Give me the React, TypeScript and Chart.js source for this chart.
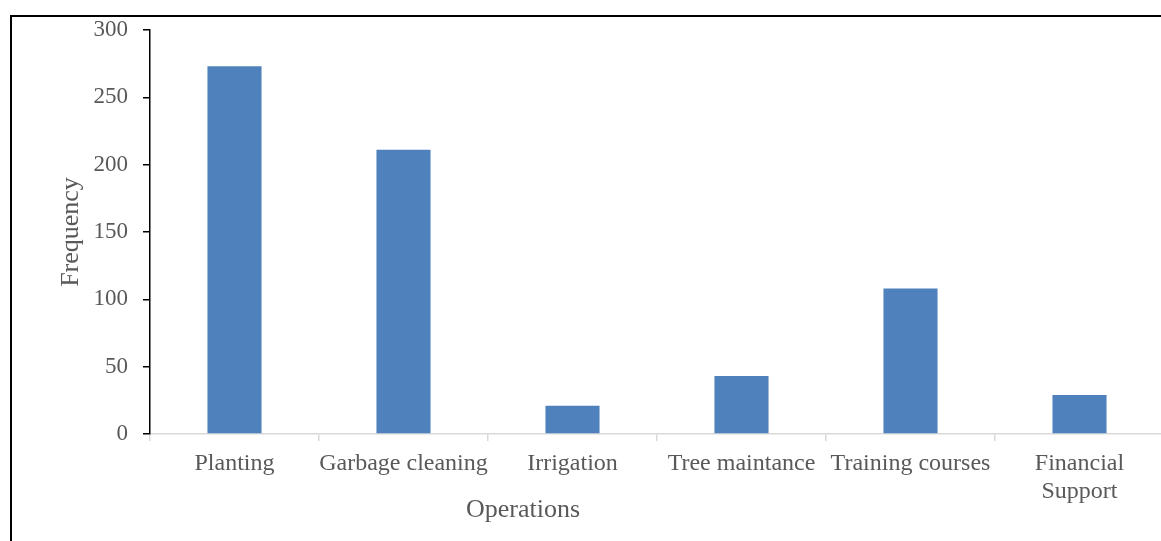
import React, { useEffect, useRef } from 'react';
import { Chart, registerables } from 'chart.js';

Chart.register(...registerables);

const categories: (string | string[])[] = [
  'Planting',
  'Garbage cleaning',
  'Irrigation',
  'Tree maintance',
  'Training courses',
  ['Financial', 'Support'],
];
const frequency: number[] = [273, 211, 21, 43, 108, 29];
const yMin = 0;
const yMax = 300;
const yStep = 50;
const xTitle = 'Operations';
const yTitle = 'Frequency';

const TEXT = '#595959';
const FONT = 'Liberation Serif, "Times New Roman", serif';

const xTitlePlugin = {
  id: 'xTitleOffset',
  afterDraw(chart: any) {
    const { ctx } = chart;
    ctx.save();
    ctx.font = `26px ${FONT}`;
    ctx.fillStyle = TEXT;
    ctx.textAlign = 'center';
    ctx.textBaseline = 'middle';
    ctx.fillText(xTitle, 523, 510);
    ctx.restore();
  },
};

export default function App() {
  const ref = useRef<HTMLCanvasElement>(null);
  useEffect(() => {
    const chart = new Chart(ref.current!, {
      type: 'bar',
      data: {
        labels: categories,
        datasets: [
          {
            data: frequency,
            backgroundColor: '#4F81BD',
            borderWidth: 0,
            barPercentage: 0.32,
            categoryPercentage: 1,
          },
        ],
      },
      options: {
        animation: false,
        responsive: false,
        maintainAspectRatio: false,
        layout: { padding: { left: 0, top: 30, right: 16, bottom: 0 } },
        plugins: { legend: { display: false }, tooltip: { enabled: false } },
        scales: {
          x: {
            grid: {
              drawOnChartArea: false,
              drawTicks: true,
              tickLength: 7,
              color: '#d9d9d9',
              lineWidth: 1.5,
              offset: true,
            },
            border: { color: '#d9d9d9', width: 1.5 },
            ticks: {
              color: TEXT,
              font: { family: FONT, size: 24, lineHeight: 1.17 },
              padding: 9,
              maxRotation: 0,
              autoSkip: false,
            },
            afterFit: (s: any) => {
              s.height = 107;
            },
          },
          y: {
            min: yMin,
            max: yMax,
            ticks: {
              stepSize: yStep,
              color: TEXT,
              font: { family: FONT, size: 23 },
              padding: 15,
            },
            grid: {
              drawOnChartArea: false,
              drawTicks: true,
              tickLength: 7,
              color: '#000',
              lineWidth: 1.5,
            },
            border: { color: '#000', width: 1.5 },
            title: {
              display: true,
              text: yTitle,
              color: TEXT,
              font: { family: FONT, size: 26 },
              padding: { top: 56, bottom: 0 },
            },
            afterFit: (s: any) => {
              s.width = 150;
            },
          },
        },
      },
      plugins: [xTitlePlugin],
    });
    return () => chart.destroy();
  }, []);

  return (
    <div
      style={{
        position: 'fixed',
        left: 0,
        top: 0,
        width: 1161,
        height: 541,
        overflow: 'hidden',
        background: '#fff',
      }}
    >
      <canvas ref={ref} width={1180} height={541} style={{ position: 'absolute', left: 0, top: 0 }} />
      <div
        style={{
          position: 'absolute',
          left: 10,
          top: 15,
          width: 1300,
          height: 700,
          border: '2px solid #000',
          pointerEvents: 'none',
        }}
      />
    </div>
  );
}
